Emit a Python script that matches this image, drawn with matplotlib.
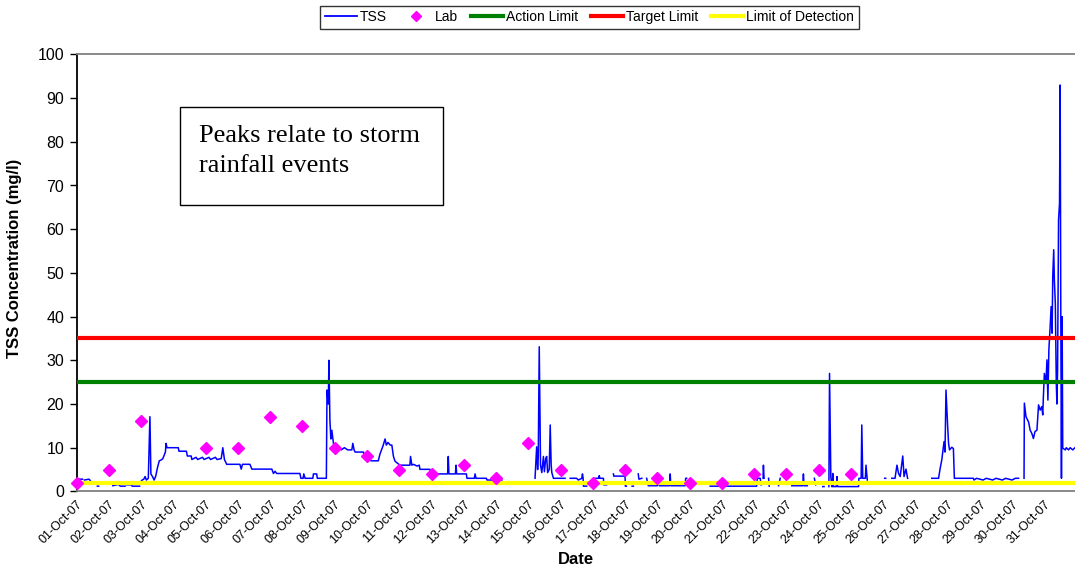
import numpy as np
import pandas as pd
import matplotlib
matplotlib.use("Agg")
import matplotlib.pyplot as plt
import matplotlib.dates as mdates
from matplotlib.lines import Line2D
from matplotlib.patches import Rectangle

plt.rcParams["font.family"] = ["Liberation Sans", "DejaVu Sans"]

start = pd.Timestamp("2007-10-01")

# TSS logger trace: (days after 01-Oct-07 00:00, mg/l)
# each list is one unbroken piece of line, gaps go between the lists
seg_01oct_a = [(0.00, 2.8), (0.18, 2.8)]
seg_01oct_b = [(0.24, 2.6), (0.38, 2.8), (0.42, 2.5)]
seg_01oct_c = [(0.64, 1.2), (0.68, 1.2)]
seg_02oct_a = [(1.12, 1.3), (1.30, 1.6), (1.35, 1.2), (1.50, 1.2)]
seg_02oct_b = [(1.55, 1.5), (1.70, 1.5), (1.72, 1.2), (1.95, 1.2)]
seg_03oct = [(2.01, 2.5), (2.08, 2.8), (2.12, 3.4), (2.16, 2.6), (2.22, 3.0), (2.27, 17.1),
             (2.30, 4.0), (2.35, 3.4), (2.40, 2.6), (2.45, 3.5), (2.50, 5.3), (2.56, 7.0),
             (2.62, 7.2), (2.67, 7.5), (2.75, 9.0), (2.77, 11.0), (2.80, 10.0), (3.15, 10.0),
             (3.17, 9.2), (3.40, 9.2), (3.43, 8.1), (3.55, 8.1), (3.57, 7.3), (3.70, 7.8),
             (3.75, 7.3), (3.90, 7.8), (3.95, 7.3), (4.10, 7.8), (4.15, 7.3), (4.30, 7.8),
             (4.35, 7.3), (4.48, 7.5), (4.53, 10.0), (4.58, 7.3), (4.65, 6.2), (5.06, 6.2),
             (5.10, 5.1), (5.14, 6.2), (5.37, 6.2), (5.43, 5.1), (6.05, 5.1), (6.10, 4.1),
             (6.15, 4.6), (6.20, 4.1), (6.92, 4.1), (6.95, 3.0), (7.02, 3.0), (7.04, 4.0),
             (7.08, 3.0), (7.32, 3.0), (7.34, 4.0), (7.44, 4.0), (7.46, 3.0), (7.74, 3.0),
             (7.76, 23.2), (7.80, 20.0), (7.82, 30.0), (7.85, 16.3), (7.88, 12.0), (7.91, 14.0),
             (7.96, 11.0), (8.01, 9.5), (8.10, 10.0), (8.20, 9.5), (8.30, 10.0), (8.40, 9.5),
             (8.53, 9.5), (8.56, 11.0), (8.60, 9.5), (8.63, 9.0), (8.89, 9.0), (8.92, 7.9),
             (9.09, 7.9), (9.12, 7.0), (9.35, 7.0), (9.40, 8.5), (9.50, 10.5), (9.56, 12.0),
             (9.60, 10.6), (9.65, 11.2), (9.72, 10.6), (9.77, 10.6), (9.82, 8.0), (9.87, 6.9),
             (10.02, 6.0), (10.33, 6.0), (10.35, 8.0), (10.39, 6.0), (10.44, 6.2), (10.55, 5.8),
             (10.62, 6.0), (10.64, 5.05), (10.95, 5.05), (11.00, 4.0), (11.50, 4.0), (11.52, 8.0),
             (11.54, 4.0), (11.74, 4.0), (11.76, 6.0), (11.78, 4.0), (12.08, 4.0), (12.10, 3.0),
             (12.33, 3.0), (12.35, 4.0), (12.38, 3.0), (12.70, 3.0), (12.72, 2.6), (13.18, 2.6)]
seg_15oct = [(14.21, 3.0), (14.26, 10.2), (14.29, 5.0), (14.31, 8.0), (14.34, 33.1), (14.38, 6.0),
             (14.42, 4.3), (14.47, 8.0), (14.50, 4.5), (14.54, 7.5), (14.57, 8.0), (14.60, 4.3),
             (14.65, 5.0), (14.68, 15.2), (14.71, 6.0), (14.73, 4.3), (14.78, 3.0), (15.14, 3.0)]
seg_16oct_a = [(15.30, 3.0), (15.50, 3.0), (15.55, 2.6), (15.66, 3.0), (15.68, 4.0), (15.70, 3.0),
               (15.71, 1.2), (15.81, 1.2)]
seg_16oct_b = [(16.07, 3.0), (16.18, 3.0), (16.20, 3.6), (16.22, 3.0), (16.33, 3.0), (16.34, 1.5),
               (16.43, 1.5)]
seg_17oct_a = [(16.64, 4.0), (16.65, 3.5), (17.00, 3.5), (17.01, 1.2), (17.04, 1.2)]
seg_17oct_b = [(17.22, 1.2), (17.26, 1.2)]
seg_18oct_a = [(17.41, 4.0), (17.43, 2.8), (17.52, 3.0)]
seg_18oct_b = [(17.67, 3.0), (17.72, 1.3), (18.00, 1.3), (18.03, 3.0), (18.06, 1.3), (18.38, 1.3),
               (18.40, 4.0), (18.42, 1.3), (18.86, 1.3), (18.88, 3.0), (18.91, 3.0)]
seg_20oct = [(19.64, 1.2), (21.08, 1.2), (21.10, 3.0), (21.19, 3.0), (21.22, 1.5)]
seg_22oct_a = [(21.28, 3.0), (21.29, 6.0), (21.31, 3.0)]
seg_22oct_b = [(21.45, 3.0), (21.47, 1.2)]
seg_22oct_c = [(21.76, 1.3), (21.81, 3.0)]
seg_23oct = [(22.17, 1.3), (22.51, 1.3), (22.53, 4.0), (22.55, 1.3), (22.65, 1.3)]
seg_24oct_a = [(22.87, 3.0), (22.91, 1.5)]
seg_24oct_b = [(23.13, 1.1), (23.17, 1.1)]
seg_25oct = [(23.32, 1.1), (23.34, 27.0), (23.38, 3.4), (23.41, 1.1), (23.43, 1.1), (23.44, 4.1),
             (23.46, 1.1), (23.55, 1.1), (23.57, 3.4), (23.59, 1.1), (24.24, 1.1), (24.25, 3.0),
             (24.32, 3.0), (24.34, 15.2), (24.37, 3.0), (24.45, 3.0), (24.47, 6.0), (24.51, 2.6)]
seg_26oct = [(25.05, 3.0), (25.08, 3.0)]
seg_27oct = [(25.27, 3.0), (25.37, 3.0), (25.43, 6.0), (25.48, 4.1), (25.53, 3.4), (25.61, 8.1),
             (25.65, 3.4), (25.71, 5.1), (25.76, 3.0)]
seg_28oct = [(26.51, 3.0), (26.72, 3.0), (26.77, 5.3), (26.82, 7.2), (26.89, 11.4), (26.92, 9.0),
             (26.95, 23.2), (27.00, 15.2), (27.03, 11.0), (27.06, 9.5), (27.13, 10.1), (27.18, 9.8),
             (27.21, 3.0), (27.80, 3.0), (27.82, 2.6), (27.90, 3.0), (28.10, 2.6), (28.20, 3.0),
             (28.40, 2.6), (28.50, 3.0), (28.70, 2.6), (28.80, 3.0), (29.00, 2.6), (29.10, 3.0),
             (29.20, 3.0)]
seg_31oct = [(29.37, 3.0), (29.38, 20.2), (29.43, 17.1), (29.51, 15.9), (29.56, 14.0), (29.61, 13.3),
             (29.66, 12.1), (29.71, 13.7), (29.77, 14.0), (29.82, 19.8), (29.87, 18.6), (29.92, 19.4),
             (29.95, 17.5), (29.97, 21.7), (30.00, 27.0), (30.05, 24.7), (30.08, 30.1), (30.11, 20.9),
             (30.14, 32.4), (30.18, 37.7), (30.21, 42.3), (30.24, 36.2), (30.26, 49.1), (30.29, 55.3),
             (30.31, 48.4), (30.34, 43.0), (30.37, 24.7), (30.39, 20.0), (30.41, 27.7), (30.44, 62.1),
             (30.47, 65.9), (30.49, 93.0), (30.51, 40.0), (30.53, 3.0), (30.55, 40.0), (30.57, 9.9),
             (30.65, 9.5), (30.68, 10.0), (30.75, 9.5), (30.80, 10.0), (30.88, 9.5), (30.95, 10.0)]

tss_segments = [seg_01oct_a, seg_01oct_b, seg_01oct_c, seg_02oct_a, seg_02oct_b, seg_03oct,
                seg_15oct, seg_16oct_a, seg_16oct_b, seg_17oct_a, seg_17oct_b, seg_18oct_a,
                seg_18oct_b, seg_20oct, seg_22oct_a, seg_22oct_b, seg_22oct_c, seg_23oct,
                seg_24oct_a, seg_24oct_b, seg_25oct, seg_26oct, seg_27oct, seg_28oct, seg_31oct]

# lab samples (midnight each day, none on 04-Oct)
lab_day = [0, 1, 2, 4, 5, 6, 7, 8, 9, 10, 11, 12, 13, 14, 15, 16, 17, 18, 19, 20, 21, 22, 23, 24]
lab_val = [2, 5, 16, 10, 10, 17, 15, 10, 8, 5, 4, 6, 3, 11, 5, 2, 5, 3, 2, 2, 4, 4, 5, 4]

action_limit = 25
target_limit = 35
detection_limit = 2

# join the segments with nan so the line breaks between them
tss_day = []
tss_val = []
for seg in tss_segments:
    for d, v in seg:
        tss_day.append(d)
        tss_val.append(v)
    tss_day.append(seg[-1][0] + 0.005)
    tss_val.append(np.nan)

tss_t = start + pd.to_timedelta(tss_day, unit="D")
lab_t = start + pd.to_timedelta(lab_day, unit="D")

fig = plt.figure(figsize=(10.75, 5.71), dpi=100)
ax = fig.add_axes([76.7 / 1075, 79.6 / 571, 1 - 76.7 / 1075, 437 / 571])

ax.plot(tss_t, tss_val, color="#0000ff", lw=1.1, zorder=2)
ax.axhline(action_limit, color="#008000", lw=3.0, zorder=3)
ax.axhline(target_limit, color="#ff0000", lw=3.0, zorder=3)
ax.axhline(detection_limit, color="#ffff00", lw=3.0, zorder=3)
ax.plot(lab_t, lab_val, ls="none", marker="D", ms=6.5, color="#ff00ff", mec="#ff00ff", zorder=4,
        clip_on=False)

ax.set_ylim(0, 100)
ax.set_yticks(range(0, 101, 10))
ax.set_xlim(start, start + pd.Timedelta(days=30.95))
ax.xaxis.set_major_locator(mdates.DayLocator())
ax.xaxis.set_major_formatter(mdates.DateFormatter("%d-%b-%y"))

ax.tick_params(axis="y", direction="out", length=5, width=1, labelsize=11.5, pad=4)
ax.tick_params(axis="x", length=0, labelsize=9, pad=5)
for lbl in ax.get_xticklabels():
    lbl.set_rotation(45)
    lbl.set_ha("right")
    lbl.set_va("top")
    lbl.set_rotation_mode("anchor")

ax.spines["left"].set_color("black")
ax.spines["left"].set_linewidth(1.3)
ax.spines["bottom"].set_color("#808080")
ax.spines["top"].set_color("#808080")
ax.spines["bottom"].set_linewidth(1.3)
ax.spines["top"].set_linewidth(1.3)
ax.spines["right"].set_visible(False)

ax.set_ylabel("TSS Concentration (mg/l)", fontsize=12, fontweight="bold")
ax.yaxis.set_label_coords(-0.0545, 0.534)
ax.set_xlabel("Date", fontsize=12, fontweight="bold", labelpad=4)

# legend on top of the figure
handles = [Line2D([], [], color="#0000ff", lw=1.3),
           Line2D([], [], ls="none", marker="D", ms=5.5, color="#ff00ff"),
           Line2D([], [], color="#008000", lw=3),
           Line2D([], [], color="#ff0000", lw=3),
           Line2D([], [], color="#ffff00", lw=3)]
names = ["TSS", "Lab", "Action Limit", "Target Limit", "Limit of Detection"]
leg = fig.legend(handles, names, loc="upper center", bbox_to_anchor=(589.5 / 1075, 1 - 5.5 / 571),
                 ncol=5, fontsize=10, frameon=True, fancybox=False, shadow=False,
                 handlelength=2.3, handletextpad=0.25, columnspacing=0.9, borderpad=0.35,
                 borderaxespad=0)
leg.get_frame().set_edgecolor("black")
leg.get_frame().set_linewidth(1.0)

# annotation box
fig.patches.append(Rectangle((180 / 1075, 1 - 205 / 571), 263 / 1075, 98 / 571,
                             transform=fig.transFigure, fill=False, ec="black", lw=1.0))
fig.text(199 / 1075, 1 - 125 / 571, "Peaks relate to storm\nrainfall events",
         family="Liberation Serif", fontsize=19, va="top", ha="left", linespacing=1.45)

fig.savefig("out.png", dpi=100)
